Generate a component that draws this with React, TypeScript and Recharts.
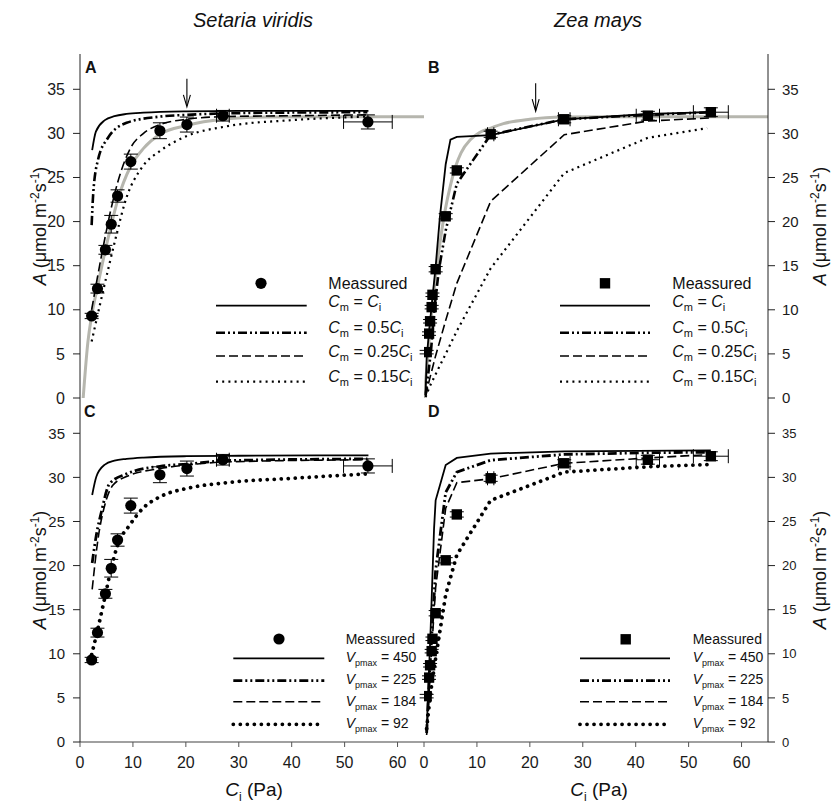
import React from 'react';
import { ComposedChart, Line, Scatter, XAxis, YAxis, ErrorBar, ReferenceDot } from 'recharts';

const FONT = '"Liberation Sans", Arial, Helvetica, sans-serif';

// axes
const xTicks = [0, 10, 20, 30, 40, 50, 60];
const yTicks = [0, 5, 10, 15, 20, 25, 30, 35];

// Setaria viridis, measured (circles)
const svCi = [2.2, 3.3, 4.8, 5.9, 7.1, 9.6, 15.1, 20.2, 27.0, 54.4];
const svA = [9.3, 12.4, 16.8, 19.7, 22.9, 26.8, 30.3, 31.0, 32.0, 31.3];
const svAErr = [0.3, 0.5, 0.5, 1.0, 0.7, 0.85, 0.9, 0.85, 0.6, 0.8];
const svCiErr = [0, 0, 0, 0, 0, 0, 0, 0, 1.2, 4.6];

// Zea mays, measured (squares)
const zmCi = [0.5, 0.95, 1.15, 1.45, 1.6, 2.2, 4.1, 6.2, 12.6, 26.5, 42.3, 54.2];
const zmA = [5.2, 7.3, 8.7, 10.3, 11.7, 14.6, 20.6, 25.8, 29.9, 31.6, 32.0, 32.4];
const zmAErr = [0.2, 0.2, 0.2, 0.2, 0.2, 0.3, 0.3, 0.3, 0.35, 0.4, 0.5, 0.5];
const zmCiErr = [0, 0, 0, 0, 0, 0, 0, 0, 0.6, 1.1, 2.2, 3.3];

// grey fitted curves
const svFitCi = [0.6, 1.5, 2.2, 3.3, 4.8, 5.9, 7.1, 9.6, 12, 15.1, 20.2, 27, 35, 45, 65];
const svFitA = [0, 6.4, 9.3, 12.6, 16.8, 19.6, 22.4, 26.3, 28.3, 29.9, 30.9, 31.6, 31.85, 31.9, 31.9];
const zmFitCi = [0, 0.5, 1, 1.5, 2, 3, 4, 5, 6, 7, 8.8, 10.5, 12.6, 15, 20, 26.5, 35, 65];
const zmFitA = [0, 3.2, 6.8, 10, 12.8, 17.5, 21.3, 24.1, 26.3, 27.8, 29.3, 30.1, 30.6, 31.1, 31.6, 31.85, 31.9, 31.9];

// panel A: Setaria, Cm scenarios
const svCm1Ci = [2.3, 3.0, 4.7, 6.5, 8.8, 12, 20.2, 30, 40, 54.5];
const svCm1A = [28.1, 30.2, 31.5, 31.95, 32.2, 32.35, 32.5, 32.55, 32.55, 32.55];
const svCm05Ci = [2.2, 2.5, 3.4, 5.3, 8.8, 15.1, 20.2, 30, 54.3];
const svCm05A = [19.6, 23.2, 27.0, 29.5, 31.2, 31.9, 32.1, 32.3, 32.4];
const svCm025Ci = [2.2, 3.3, 4.8, 5.7, 7.1, 9.6, 12, 15.1, 20.2, 27, 40, 54.3];
const svCm025A = [10.0, 13.7, 18.4, 21.0, 24.4, 28.4, 30.0, 31.0, 31.6, 31.9, 32.0, 32.1];
const svCm015Ci = [2.2, 3.7, 5.6, 7.1, 8.4, 11.9, 15.1, 20.2, 27.7, 40, 54.3];
const svCm015A = [6.4, 10.4, 15.3, 19.0, 22.0, 26.3, 28.0, 29.7, 30.8, 31.5, 31.9];

// panel B: Zea, Cm scenarios
const zmCm1Ci = [0.3, 0.5, 0.95, 1.45, 2.2, 3.0, 4.1, 5.0, 6.2, 12.6, 26.5, 42.3, 54.2];
const zmCm1A = [0.5, 4.5, 7.5, 10.5, 14.9, 20.5, 26.5, 29.3, 29.6, 29.8, 31.6, 32.2, 32.4];
const zmCm05Ci = [0.3, 1.3, 2.0, 2.8, 4.1, 6.2, 12.6, 26.5, 42.3, 54.2];
const zmCm05A = [0.3, 5.2, 10.3, 14.5, 19.0, 24.3, 29.85, 31.6, 32.1, 32.4];
const zmCm025Ci = [0.3, 1.0, 2.2, 4.1, 6.2, 12.6, 26.5, 42.3, 54.2];
const zmCm025A = [0.2, 2.0, 4.8, 8.8, 13.0, 22.3, 29.85, 31.4, 31.75];
const zmCm015Ci = [0.3, 1.0, 2.2, 4.1, 6.2, 12.6, 26.5, 42.3, 53.5];
const zmCm015A = [0.1, 1.2, 2.7, 5.0, 7.6, 14.7, 25.5, 29.5, 30.6];

// panel C: Setaria, Vpmax scenarios
const svV450Ci = [2.3, 3.1, 4.7, 6.5, 8.8, 12, 20.2, 30, 54.5];
const svV450A = [28.0, 30.1, 31.45, 31.9, 32.1, 32.25, 32.4, 32.45, 32.5];
const svV225Ci = [2.3, 3.1, 4.05, 5.6, 8.8, 15.1, 20.2, 27.7, 54.3];
const svV225A = [20.3, 23.5, 26.1, 29.3, 30.4, 31.26, 31.5, 31.9, 32.1];
const svV184Ci = [2.3, 3.4, 4.7, 6.2, 8.8, 15.1, 20.2, 27.7, 54.3];
const svV184A = [17.3, 23.0, 26.9, 29.1, 30.1, 31.0, 31.4, 31.75, 32.0];
const svV92Ci = [2.2, 3.4, 4.8, 5.9, 7.1, 9.4, 11.9, 15.1, 20.2, 27.7, 40.3, 54.3];
const svV92A = [9.9, 12.9, 16.7, 19.7, 22.3, 24.6, 26.5, 27.8, 28.75, 29.4, 29.9, 30.4];

// panel D: Zea, Vpmax scenarios
const zmV450Ci = [0.5, 1.26, 1.9, 2.2, 4.1, 6.2, 12.6, 26.5, 54.2];
const zmV450A = [1.2, 12.9, 24.2, 27.4, 31.4, 32.2, 32.7, 32.96, 33.07];
const zmV225Ci = [0.5, 0.95, 1.45, 2.2, 4.1, 6.2, 12.6, 26.5, 42.3, 54.2];
const zmV225A = [1.0, 6.5, 12.0, 19.5, 28.3, 30.6, 31.95, 32.6, 32.8, 32.85];
const zmV184Ci = [0.5, 0.95, 1.45, 2.2, 4.1, 6.2, 12.6, 26.5, 42.3, 54.2];
const zmV184A = [0.8, 5.5, 10.5, 17.5, 26.5, 29.4, 29.85, 31.6, 32.2, 32.6];
const zmV92Ci = [0.5, 0.95, 1.45, 2.2, 4.1, 6.2, 12.6, 26.5, 42.3, 53.5];
const zmV92A = [1.5, 4.0, 6.5, 9.5, 16.7, 21.2, 27.4, 30.6, 31.2, 31.45];

// legend labels
const cmCoefs = ['', '0.5', '0.25', '0.15'];
const vpValues = ['450', '225', '184', '92'];

type Pt = { x: number; y: number };
const pts = (xs: number[], ys: number[]): Pt[] => xs.map((x, i) => ({ x, y: ys[i] }));
const meas = (xs: number[], ys: number[], ey: number[], ex: number[]) =>
  xs.map((x, i) => ({ x, y: ys[i], ey: ey[i], ex: ex[i] }));

const svMeas = meas(svCi, svA, svAErr, svCiErr);
const zmMeas = meas(zmCi, zmA, zmAErr, zmCiErr);

// page geometry
const W = 834;
const H = 809;
const X0 = 80;
const XM = 424;
const X1 = 768;
const Y0 = 54;
const YM = 398;
const Y1 = 742;

type LStyle = { w: number; dash?: string; cap?: 'round' | 'butt' };
const thinStyles: LStyle[] = [
  { w: 1.8 },
  { w: 2.6, dash: '9 3 2 3 2 3' },
  { w: 1.6, dash: '9 4' },
  { w: 2.2, dash: '2 4.2' },
];
const boldStyles: LStyle[] = [
  { w: 1.8 },
  { w: 2.8, dash: '9 3 2 3 2 3' },
  { w: 1.6, dash: '9 4' },
  { w: 3.8, dash: '0.01 7', cap: 'round' },
];

const Circle = (p: any) => <circle cx={p.cx} cy={p.cy} r={5.6} fill="#000" />;
const Square = (p: any) => <rect x={p.cx - 5.2} y={p.cy - 5.2} width={10.4} height={10.4} fill="#000" />;

const Arrow = (p: any) => {
  const { cx, cy } = p;
  return (
    <g stroke="#000" strokeWidth={1.1} fill="none">
      <line x1={cx} y1={cy - 14} x2={cx} y2={cy + 13} />
      <polyline points={`${cx - 3.5},${cy + 2} ${cx},${cy + 14} ${cx + 3.5},${cy + 2}`} />
    </g>
  );
};

interface PanelProps {
  col: number;
  row: number;
  measured: { x: number; y: number; ey: number; ex: number }[];
  marker: 'circle' | 'square';
  lines: { data: Pt[]; curve: 'monotone' | 'linear' }[];
  styles: LStyle[];
  gray?: Pt[];
  arrow?: { x: number; y: number };
  tickFont: number;
}

function Panel({ col, row, measured, marker, lines, styles, gray, arrow, tickFont }: PanelProps) {
  const isLeft = col === 0;
  const isBottom = row === 1;
  const margin = {
    top: isBottom ? YM : Y0,
    bottom: isBottom ? H - Y1 - 40 : H - YM,
    left: isLeft ? X0 - 40 : XM,
    right: isLeft ? W - XM : W - X1 - 40,
  };
  const ax = '#222';
  const yTick = { fontSize: tickFont, fill: '#1a1a1a', fontFamily: FONT };
  const xTick = { fontSize: 16, fill: '#1a1a1a', fontFamily: FONT };
  return (
    <div style={{ position: 'absolute', left: 0, top: 0 }}>
      <ComposedChart width={W} height={H} margin={margin}>
        <XAxis
          dataKey="x"
          type="number"
          domain={[0, 65]}
          ticks={xTicks}
          interval={0}
          allowDataOverflow
          height={isBottom ? 40 : 0}
          mirror={!isBottom}
          tick={isBottom ? xTick : false}
          tickSize={5}
          tickMargin={10}
          axisLine={{ stroke: isBottom ? '#808080' : ax, strokeWidth: isBottom ? 1.6 : 1 }}
          tickLine={{ stroke: isBottom ? '#555' : ax }}
        />
        <XAxis
          xAxisId="top"
          orientation="top"
          dataKey="x"
          type="number"
          domain={[0, 65]}
          ticks={xTicks}
          interval={0}
          allowDataOverflow
          height={0}
          mirror
          tick={false}
          tickSize={5}
          axisLine={{ stroke: ax }}
          tickLine={{ stroke: ax }}
        />
        <YAxis
          dataKey="y"
          type="number"
          domain={[0, 39]}
          ticks={yTicks}
          interval={0}
          allowDataOverflow
          width={isLeft ? 40 : 0}
          mirror={!isLeft}
          tick={isLeft ? yTick : false}
          tickSize={isLeft ? 7 : 6}
          tickMargin={8}
          axisLine={{ stroke: ax }}
          tickLine={{ stroke: ax }}
        />
        <YAxis
          yAxisId="r"
          orientation="right"
          dataKey="y"
          type="number"
          domain={[0, 39]}
          ticks={yTicks}
          interval={0}
          allowDataOverflow
          width={isLeft ? 0 : 40}
          mirror={isLeft}
          tick={isLeft ? false : yTick}
          tickSize={isLeft ? 6 : 7}
          tickMargin={7}
          axisLine={{ stroke: ax }}
          tickLine={{ stroke: ax }}
        />
        <Line
          xAxisId="top"
          yAxisId="r"
          data={measured}
          dataKey="y"
          stroke="none"
          dot={false}
          activeDot={false}
          isAnimationActive={false}
        />
        {gray && (
          <Line
            data={gray}
            dataKey="y"
            type="monotone"
            stroke="#b6b6ae"
            strokeWidth={3}
            dot={false}
            activeDot={false}
            isAnimationActive={false}
          />
        )}
        {lines.map((l, i) => (
          <Line
            key={i}
            data={l.data}
            dataKey="y"
            type={l.curve}
            stroke="#000"
            strokeWidth={styles[i].w}
            strokeDasharray={styles[i].dash}
            strokeLinecap={styles[i].cap || 'butt'}
            dot={false}
            activeDot={false}
            isAnimationActive={false}
          />
        ))}
        <Scatter data={measured} dataKey="y" shape={marker === 'circle' ? Circle : Square} isAnimationActive={false}>
          <ErrorBar dataKey="ey" direction="y" width={7} stroke="#000" strokeWidth={1} />
          <ErrorBar dataKey="ex" direction="x" width={7} stroke="#000" strokeWidth={1} />
        </Scatter>
        {arrow && <ReferenceDot x={arrow.x} y={arrow.y} shape={Arrow} ifOverflow="visible" />}
      </ComposedChart>
    </div>
  );
}

interface LegendProps {
  marker: 'circle' | 'square';
  mx: number;
  my: number;
  tx: number;
  measBase: number;
  lx1: number;
  lx2: number;
  lineYs: number[];
  textBases: number[];
  styles: LStyle[];
  font: number;
  kind: 'cm' | 'vp';
}

function LegendBlock({ marker, mx, my, tx, measBase, lx1, lx2, lineYs, textBases, styles, font, kind }: LegendProps) {
  const sub = Math.round(font * 0.68);
  return (
    <g fontFamily={FONT} fill="#111">
      {marker === 'circle' ? (
        <circle cx={mx} cy={my} r={5.6} fill="#000" />
      ) : (
        <rect x={mx - 5.2} y={my - 5.2} width={10.4} height={10.4} fill="#000" />
      )}
      <text x={tx} y={measBase} fontSize={font}>Meassured</text>
      {styles.map((s, i) => (
        <line
          key={'l' + i}
          x1={lx1}
          x2={lx2}
          y1={lineYs[i]}
          y2={lineYs[i]}
          stroke="#000"
          strokeWidth={s.w}
          strokeDasharray={s.dash}
          strokeLinecap={s.cap || 'butt'}
        />
      ))}
      {styles.map((_, i) =>
        kind === 'cm' ? (
          <text key={'t' + i} x={tx} y={textBases[i]} fontSize={font}>
            <tspan fontStyle="italic">C</tspan>
            <tspan dy={4} fontSize={sub}>m</tspan>
            <tspan dy={-4}> = {cmCoefs[i]}</tspan>
            <tspan fontStyle="italic">C</tspan>
            <tspan dy={4} fontSize={sub}>i</tspan>
          </text>
        ) : (
          <text key={'t' + i} x={tx} y={textBases[i]} fontSize={font}>
            <tspan fontStyle="italic">V</tspan>
            <tspan dy={4} fontSize={sub - 1}>pmax</tspan>
            <tspan dy={-4}> = {vpValues[i]}</tspan>
          </text>
        ),
      )}
    </g>
  );
}

const YTitle = ({ x, y }: { x: number; y: number }) => (
  <text transform={`translate(${x},${y}) rotate(-90)`} textAnchor="middle" fontSize={18} fontFamily={FONT} fill="#111">
    <tspan fontStyle="italic">A</tspan> (μmol m<tspan dy={-7} fontSize={12}>-2</tspan>
    <tspan dy={7}>s</tspan>
    <tspan dy={-7} fontSize={12}>-1</tspan>
    <tspan dy={7}>)</tspan>
  </text>
);

const XTitle = ({ x }: { x: number }) => (
  <text x={x} y={796} textAnchor="middle" fontSize={19} fontFamily={FONT} fill="#111">
    <tspan fontStyle="italic">C</tspan>
    <tspan dy={5} fontSize={12}>i</tspan>
    <tspan dy={-5}> (Pa)</tspan>
  </text>
);

export default function App() {
  const lyTop = [305.7, 332.7, 356, 381.7];
  const tbTop = [307.3, 333.3, 356.7, 381.7];
  const lyBot = [658.3, 680.7, 701.7, 724.3];
  const tbBot = [661.7, 684, 706, 728.3];
  return (
    <div style={{ position: 'absolute', left: 0, top: 0, width: W, height: H, background: '#fff' }}>
      <Panel
        col={0}
        row={0}
        measured={svMeas}
        marker="circle"
        gray={pts(svFitCi, svFitA)}
        styles={thinStyles}
        lines={[
          { data: pts(svCm1Ci, svCm1A), curve: 'monotone' },
          { data: pts(svCm05Ci, svCm05A), curve: 'monotone' },
          { data: pts(svCm025Ci, svCm025A), curve: 'monotone' },
          { data: pts(svCm015Ci, svCm015A), curve: 'monotone' },
        ]}
        arrow={{ x: 20.2, y: 34.6 }}
        tickFont={16}
      />
      <Panel
        col={1}
        row={0}
        measured={zmMeas}
        marker="square"
        gray={pts(zmFitCi, zmFitA)}
        styles={thinStyles}
        lines={[
          { data: pts(zmCm1Ci, zmCm1A), curve: 'linear' },
          { data: pts(zmCm05Ci, zmCm05A), curve: 'linear' },
          { data: pts(zmCm025Ci, zmCm025A), curve: 'linear' },
          { data: pts(zmCm015Ci, zmCm015A), curve: 'linear' },
        ]}
        arrow={{ x: 21.1, y: 34.1 }}
        tickFont={15}
      />
      <Panel
        col={0}
        row={1}
        measured={svMeas}
        marker="circle"
        styles={boldStyles}
        lines={[
          { data: pts(svV450Ci, svV450A), curve: 'monotone' },
          { data: pts(svV225Ci, svV225A), curve: 'monotone' },
          { data: pts(svV184Ci, svV184A), curve: 'monotone' },
          { data: pts(svV92Ci, svV92A), curve: 'monotone' },
        ]}
        tickFont={15}
      />
      <Panel
        col={1}
        row={1}
        measured={zmMeas}
        marker="square"
        styles={boldStyles}
        lines={[
          { data: pts(zmV450Ci, zmV450A), curve: 'linear' },
          { data: pts(zmV225Ci, zmV225A), curve: 'linear' },
          { data: pts(zmV184Ci, zmV184A), curve: 'linear' },
          { data: pts(zmV92Ci, zmV92A), curve: 'linear' },
        ]}
        tickFont={13}
      />
      <svg width={W} height={H} style={{ position: 'absolute', left: 0, top: 0, pointerEvents: 'none' }}>
        <text x={253} y={27} textAnchor="middle" fontSize={20} fontStyle="italic" fontFamily={FONT} fill="#111">
          Setaria viridis
        </text>
        <text x={598} y={27} textAnchor="middle" fontSize={20} fontStyle="italic" fontFamily={FONT} fill="#111">
          Zea mays
        </text>
        <g fontFamily={FONT} fontWeight="bold" fontSize={16} fill="#111">
          <text x={85} y={73}>A</text>
          <text x={428} y={73}>B</text>
          <text x={84} y={417}>C</text>
          <text x={428} y={417}>D</text>
        </g>
        <YTitle x={46} y={226} />
        <YTitle x={46} y={570} />
        <YTitle x={826} y={226} />
        <YTitle x={826} y={570} />
        <XTitle x={254} />
        <XTitle x={599} />
        <LegendBlock marker="circle" mx={261} my={283.3} tx={328.3} measBase={289} lx1={216} lx2={306.7}
          lineYs={lyTop} textBases={tbTop} styles={thinStyles} font={16} kind="cm" />
        <LegendBlock marker="square" mx={605} my={283.3} tx={672.3} measBase={289} lx1={560} lx2={650}
          lineYs={lyTop} textBases={tbTop} styles={thinStyles} font={16} kind="cm" />
        <LegendBlock marker="circle" mx={279} my={639} tx={345.7} measBase={644.3} lx1={233.3} lx2={324.3}
          lineYs={lyBot} textBases={tbBot} styles={boldStyles} font={14} kind="vp" />
        <LegendBlock marker="square" mx={625.7} my={639.3} tx={692.7} measBase={644.3} lx1={580} lx2={670}
          lineYs={lyBot} textBases={tbBot} styles={boldStyles} font={14} kind="vp" />
      </svg>
    </div>
  );
}
